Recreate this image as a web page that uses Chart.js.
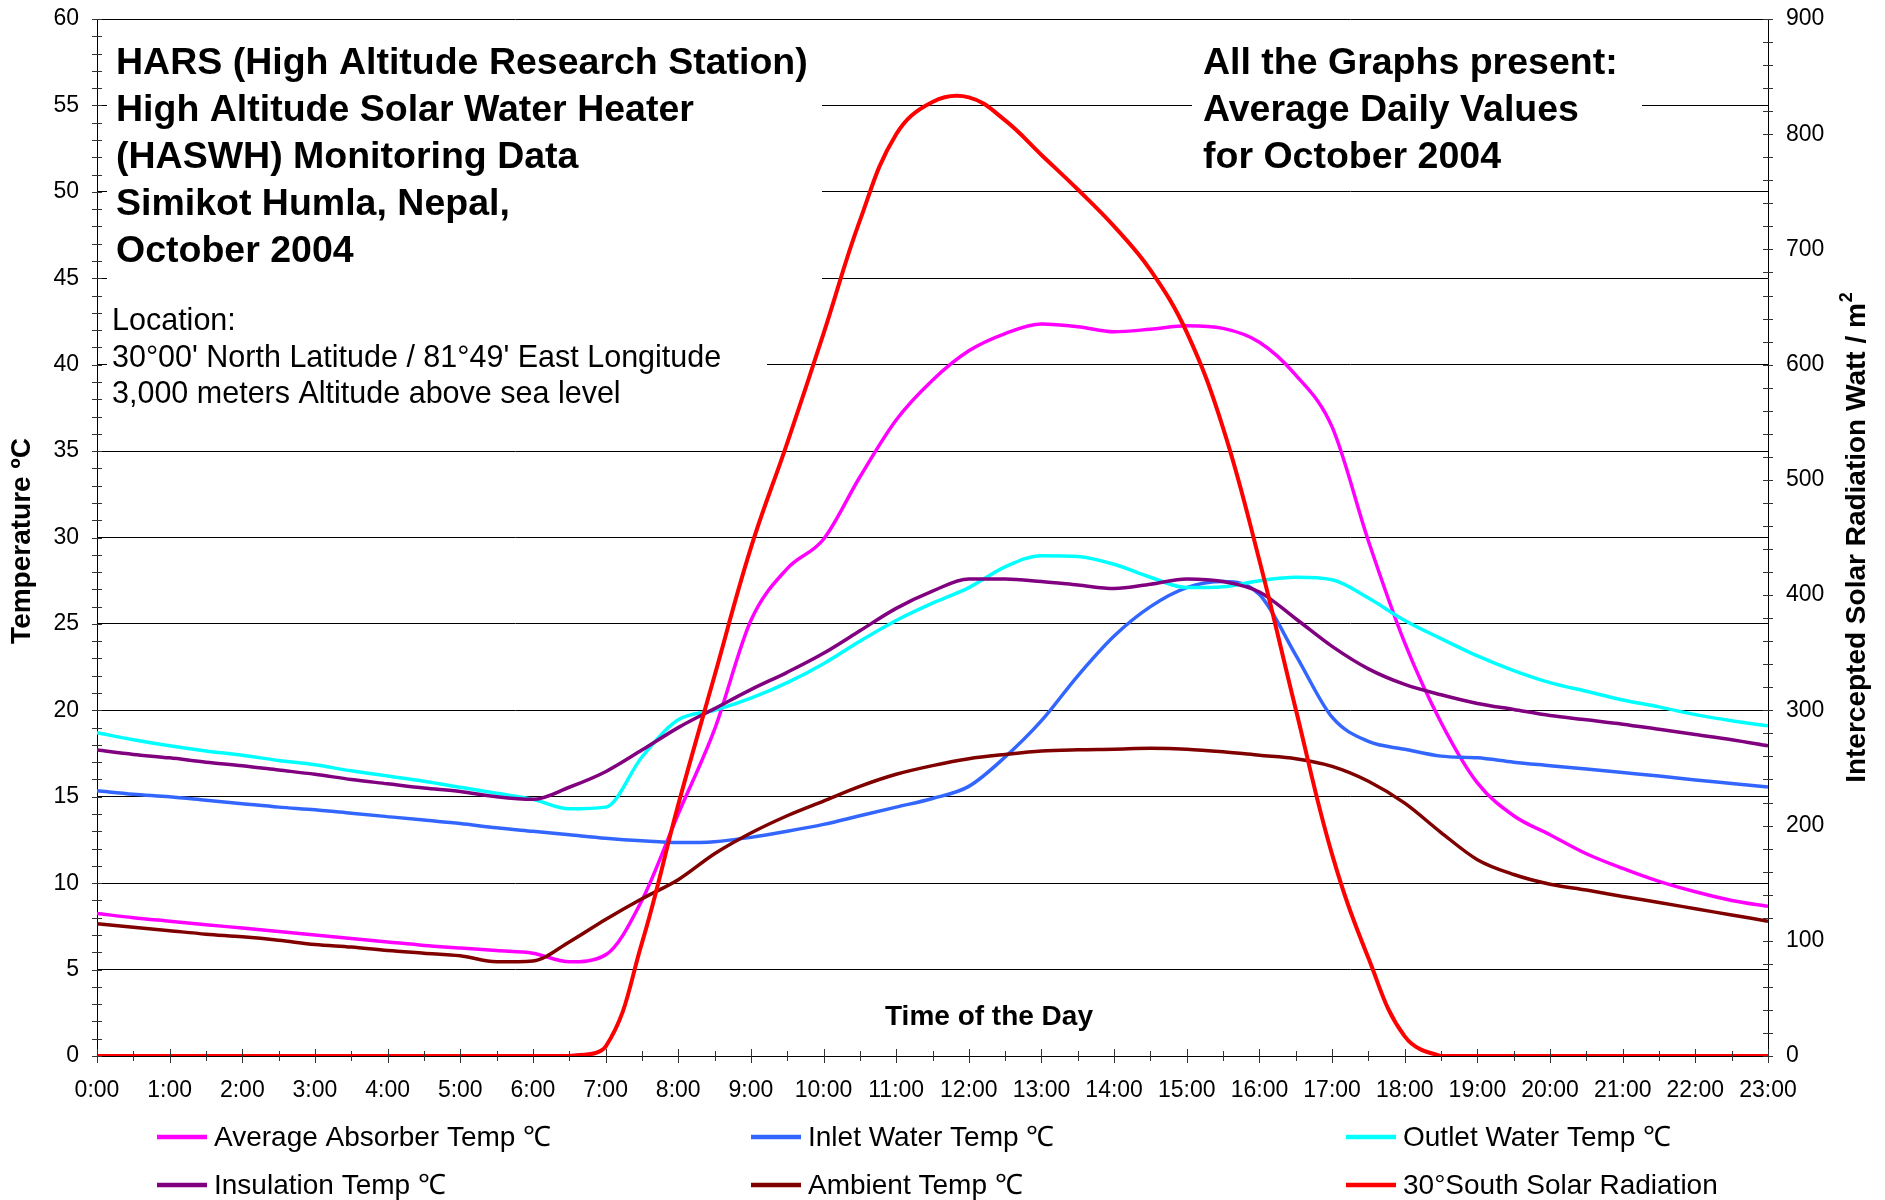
<!DOCTYPE html>
<html lang="en">
<head>
    <meta charset="UTF-8">
    <title>HASWH Monitoring Data - Simikot Humla, October 2004</title>
    <style>
        html, body { margin: 0; padding: 0; background: #fff; }
        #wrap { width: 1885px; height: 1200px; }
    </style>
</head>
<body>

    <div id="wrap">
        <canvas id="myChart" width="1885" height="1200"></canvas>
    </div>

    <script src="https://cdn.jsdelivr.net/npm/chart.js@4.4.1/dist/chart.umd.min.js"></script>
    <script>

        // time of the day, in hours (half hour steps)
        var hours = [0, 0.5, 1, 1.5, 2, 2.5, 3, 3.5, 4, 4.5, 5, 5.5, 6, 6.5, 7, 7.5, 8, 8.5, 9, 9.5,
            10, 10.5, 11, 11.5, 12, 12.5, 13, 13.5, 14, 14.5, 15, 15.5, 16, 16.5, 17, 17.5, 18, 18.5,
            19, 19.5, 20, 20.5, 21, 21.5, 22, 22.5, 23];

        // average daily values, October 2004 (deg C)
        var absorberTemp = [8.25, 8.0, 7.8, 7.6, 7.4, 7.2, 7.0, 6.8, 6.6, 6.4, 6.25, 6.1, 5.95, 5.45, 5.85, 9.0,
            14.0, 18.9, 25.2, 28.2, 29.9, 33.5, 36.8, 39.1, 40.8, 41.8, 42.35, 42.2, 41.9, 42.05, 42.25, 42.1,
            41.3, 39.4, 36.4, 29.8, 23.9, 19.3, 15.8, 13.9, 12.8, 11.7, 10.85, 10.1, 9.5, 9.0, 8.66];
        var inletTemp = [15.35, 15.15, 15.0, 14.8, 14.6, 14.4, 14.25, 14.05, 13.85, 13.65, 13.45, 13.2, 13.0, 12.8,
            12.6, 12.45, 12.35, 12.4, 12.65, 13.0, 13.4, 13.9, 14.4, 14.9, 15.6, 17.3, 19.4, 22.0, 24.3, 26.0,
            27.1, 27.45, 26.7, 23.2, 19.6, 18.2, 17.75, 17.35, 17.25, 17.0, 16.8, 16.6, 16.4, 16.2, 15.97, 15.77, 15.57];
        var outletTemp = [18.7, 18.3, 17.95, 17.65, 17.4, 17.1, 16.85, 16.5, 16.2, 15.9, 15.55, 15.2, 14.85, 14.3,
            14.4, 17.3, 19.45, 20.0, 20.7, 21.6, 22.7, 24.0, 25.2, 26.2, 27.1, 28.3, 28.95, 28.9, 28.45, 27.7,
            27.1, 27.15, 27.5, 27.7, 27.56, 26.5, 25.2, 24.15, 23.15, 22.3, 21.6, 21.1, 20.6, 20.2, 19.75, 19.4, 19.1];
        var insulationTemp = [17.7, 17.45, 17.25, 17.0, 16.8, 16.55, 16.3, 16.0, 15.75, 15.5, 15.3, 15.0, 14.85, 15.55,
            16.45, 17.7, 19.0, 20.1, 21.2, 22.2, 23.3, 24.6, 25.9, 26.9, 27.6, 27.6, 27.45, 27.25, 27.05, 27.3,
            27.6, 27.45, 26.85, 25.3, 23.7, 22.4, 21.5, 20.9, 20.4, 20.05, 19.7, 19.45, 19.2, 18.9, 18.6, 18.3, 17.95];
        var ambientTemp = [7.65, 7.45, 7.25, 7.05, 6.9, 6.7, 6.45, 6.3, 6.1, 5.95, 5.8, 5.45, 5.5, 6.6, 7.9, 9.1,
            10.2, 11.7, 12.9, 13.9, 14.75, 15.6, 16.3, 16.8, 17.2, 17.45, 17.65, 17.72, 17.75, 17.8, 17.75, 17.6,
            17.4, 17.2, 16.76, 15.9, 14.63, 12.93, 11.36, 10.5, 9.94, 9.6, 9.23, 8.88, 8.52, 8.16, 7.8];

        // 30 deg south intercepted solar radiation (W/m2)
        var solarRadiation = [0, 0, 0, 0, 0, 0, 0, 0, 0, 0, 0, 0, 0, 0, 8, 98, 218, 330, 441, 532, 627, 725,
            800, 828, 832, 812, 782, 752, 720, 682, 628, 545, 430, 301, 175, 85, 17, 0, 0, 0, 0, 0, 0, 0, 0, 0, 0];

        var seriesLabels = ['Average Absorber Temp \u2103', 'Inlet Water Temp \u2103', 'Outlet Water Temp \u2103',
            'Insulation Temp \u2103', 'Ambient Temp \u2103', '30\u00b0South Solar Radiation'];

        var titleLines = ['HARS (High Altitude Research Station)', 'High Altitude Solar Water Heater',
            '(HASWH) Monitoring Data', 'Simikot Humla, Nepal,', 'October 2004'];
        var noteLines = ['All the Graphs present:', 'Average Daily Values', 'for October 2004'];
        var locationLines = ['Location:', '30\u00b000\' North Latitude / 81\u00b049\' East Longitude',
            '3,000 meters Altitude above sea level'];

        var FONT = '"Liberation Sans", Arial, Helvetica, sans-serif';

        function points(values) {
            return values.map(function (v, i) { return { x: hours[i], y: v }; });
        }

        function series(label, values, color, axis, width, order) {
            return {
                label: label,
                data: points(values),
                borderColor: color,
                backgroundColor: color,
                borderWidth: width,
                yAxisID: axis,
                order: order,
                fill: false
            };
        }

        // fixed axis sizes so the plot area sits where it should
        function fitVertical(width) {
            return function (s) {
                s.width = width;
                s.paddingTop = 0;
                s.paddingBottom = 0;
            };
        }

        // text boxes, ticks, axis titles and legend drawn straight on the canvas
        var decor = {
            id: 'decor',
            beforeDatasetsDraw: function (chart) {
                var ctx = chart.ctx;
                ctx.save();
                // white text boxes hide the gridlines behind them
                ctx.fillStyle = '#fff';
                ctx.fillRect(107, 25, 715, 266);
                ctx.fillRect(107, 295, 660, 125);
                ctx.fillRect(1192, 30, 450, 150);
                ctx.restore();
            },
            afterDraw: function (chart) {
                var ctx = chart.ctx;
                var area = chart.chartArea;
                var yL = chart.scales.y, yR = chart.scales.y1, xs = chart.scales.x;
                var i, p;
                ctx.save();

                // minor ticks
                ctx.strokeStyle = '#333';
                ctx.lineWidth = 1;
                ctx.beginPath();
                for (i = 0; i <= 60; i++) {
                    p = Math.round(yL.getPixelForValue(i)) + 0.5;
                    ctx.moveTo(area.left - 5, p); ctx.lineTo(area.left + 5, p);
                }
                for (i = 0; i <= 900; i += 20) {
                    p = Math.round(yR.getPixelForValue(i)) + 0.5;
                    ctx.moveTo(area.right - 5, p); ctx.lineTo(area.right + 5, p);
                }
                for (i = 0; i <= 46; i++) {
                    var len = i % 2 === 0 ? 7 : 5;
                    p = Math.round(xs.getPixelForValue(i / 2)) + 0.5;
                    ctx.moveTo(p, area.bottom - len); ctx.lineTo(p, area.bottom + len);
                }
                ctx.stroke();

                // text blocks
                ctx.fillStyle = '#000';
                ctx.textAlign = 'left';
                ctx.textBaseline = 'alphabetic';
                ctx.font = 'bold 37.5px ' + FONT;
                titleLines.forEach(function (t, k) { ctx.fillText(t, 116, 74 + k * 46.9); });
                noteLines.forEach(function (t, k) { ctx.fillText(t, 1203, 74 + k * 46.9); });
                ctx.font = '30.5px ' + FONT;
                locationLines.forEach(function (t, k) { ctx.fillText(t, 112, 330 + k * 36.7); });

                ctx.font = 'bold 28px ' + FONT;
                ctx.textAlign = 'center';
                ctx.textBaseline = 'middle';
                ctx.fillText('Time of the Day', 989, 1017);

                // left axis title
                ctx.save();
                ctx.translate(22, 541);
                ctx.rotate(-Math.PI / 2);
                ctx.fillText('Temperature \u00baC', 0, 0);
                ctx.restore();

                // right axis title, with a superscript 2
                ctx.save();
                ctx.translate(1857, 538);
                ctx.rotate(-Math.PI / 2);
                ctx.textAlign = 'left';
                var main = 'Intercepted Solar Radiation Watt / m';
                var wMain = ctx.measureText(main).width;
                ctx.font = 'bold 18px ' + FONT;
                var wSup = ctx.measureText('2').width;
                var start = -(wMain + wSup) / 2;
                ctx.fillText('2', start + wMain + 1, -10);
                ctx.font = 'bold 28px ' + FONT;
                ctx.fillText(main, start, 0);
                ctx.restore();

                // legend, 3 columns x 2 rows
                var cols = [157, 751, 1346], rows = [1137, 1185];
                ctx.font = '28px ' + FONT;
                ctx.textAlign = 'left';
                chart.data.datasets.forEach(function (ds, k) {
                    var x = cols[k % 3], y = rows[Math.floor(k / 3)];
                    ctx.strokeStyle = ds.borderColor;
                    ctx.lineWidth = 4.5;
                    ctx.beginPath();
                    ctx.moveTo(x, y); ctx.lineTo(x + 50, y);
                    ctx.stroke();
                    ctx.fillStyle = '#000';
                    ctx.fillText(ds.label, x + 57, y + 1);
                });

                ctx.restore();
            }
        };

        Chart.defaults.font.family = FONT;
        Chart.defaults.color = '#000';

        var radiation = series(seriesLabels[5], solarRadiation, '#ff0000', 'y1', 4, 0);
        radiation.cubicInterpolationMode = 'default';
        radiation.tension = 0.4;

        var ctx = document.getElementById('myChart').getContext('2d');
        var myChart = new Chart(ctx, {
            type: 'line',
            data: {
                datasets: [
                    series(seriesLabels[0], absorberTemp, '#ff00ff', 'y', 3.5, 5),
                    series(seriesLabels[1], inletTemp, '#3366ff', 'y', 3.5, 4),
                    series(seriesLabels[2], outletTemp, '#00ffff', 'y', 3.5, 3),
                    series(seriesLabels[3], insulationTemp, '#800080', 'y', 3.5, 2),
                    series(seriesLabels[4], ambientTemp, '#800000', 'y', 3.5, 1),
                    radiation
                ]
            },
            options: {
                responsive: false,
                animation: false,
                devicePixelRatio: 1,
                layout: { padding: { top: 19, left: 0, right: 0, bottom: 0 } },
                elements: {
                    point: { radius: 0 },
                    line: { cubicInterpolationMode: 'monotone' }
                },
                plugins: {
                    legend: { display: false },
                    tooltip: { enabled: false }
                },
                scales: {
                    x: {
                        type: 'linear',
                        min: 0,
                        max: 23,
                        afterFit: function (s) { s.height = 144; },
                        grid: { display: false },
                        border: { display: true, color: '#000', width: 1 },
                        ticks: {
                            stepSize: 1,
                            autoSkip: false,
                            maxRotation: 0,
                            padding: 13,
                            font: { size: 23 },
                            callback: function (v) { return v + ':00'; }
                        }
                    },
                    y: {
                        position: 'left',
                        min: 0,
                        max: 60,
                        afterFit: fitVertical(97),
                        grid: { color: '#000', lineWidth: 1, drawTicks: false },
                        border: { color: '#000', width: 1 },
                        ticks: { stepSize: 5, padding: 18, font: { size: 23 } }
                    },
                    y1: {
                        position: 'right',
                        min: 0,
                        max: 900,
                        afterFit: fitVertical(117),
                        grid: { drawOnChartArea: false, drawTicks: false },
                        border: { color: '#000', width: 1 },
                        ticks: { stepSize: 100, padding: 18, font: { size: 23 } }
                    }
                }
            },
            plugins: [decor]
        });

    </script>

</body>
</html>
